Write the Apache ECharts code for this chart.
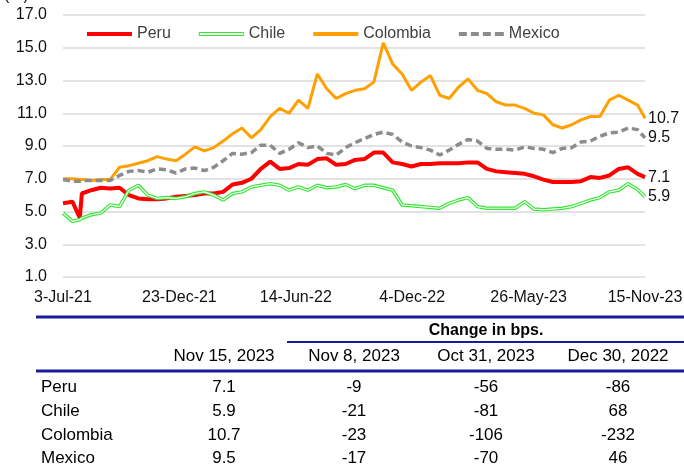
<!DOCTYPE html>
<html>
<head>
<meta charset="utf-8">
<script src="https://cdn.jsdelivr.net/npm/echarts@6/dist/echarts.min.js"></script>
<style>
  html, body { margin: 0; padding: 0; background: #fff; }
  #main { width: 684px; height: 464px; }
</style>
</head>
<body>
<div id="main"></div>
<script>
// sampled dates (about every two weeks)
var dates = ['2021-07-03','2021-07-17','2021-07-28','2021-07-31','2021-08-14','2021-08-28','2021-09-11','2021-09-25','2021-10-09','2021-10-23','2021-11-06','2021-11-20','2021-12-04','2021-12-18',
  '2022-01-01','2022-01-15','2022-01-29','2022-02-12','2022-02-26','2022-03-12','2022-03-26','2022-04-09','2022-04-23','2022-05-07','2022-05-21','2022-06-04','2022-06-18','2022-07-02','2022-07-16','2022-07-30','2022-08-13','2022-08-27','2022-09-10','2022-09-24','2022-10-08','2022-10-22','2022-11-05','2022-11-19','2022-12-03','2022-12-17','2022-12-31',
  '2023-01-14','2023-01-28','2023-02-11','2023-02-25','2023-03-11','2023-03-25','2023-04-08','2023-04-22','2023-05-06','2023-05-20','2023-06-03','2023-06-17','2023-07-01','2023-07-15','2023-07-29','2023-08-12','2023-08-26','2023-09-09','2023-09-23','2023-10-07','2023-10-21','2023-11-04','2023-11-15'];

var peru = [5.5, 5.6, 4.6, 6.1, 6.3, 6.45, 6.4, 6.45, 6.0, 5.8, 5.75, 5.75, 5.8, 5.9,
  5.95, 6.0, 6.1, 6.1, 6.2, 6.65, 6.75, 7.0, 7.6, 8.05, 7.6, 7.65, 7.9, 7.85, 8.2, 8.25, 7.85, 7.9, 8.15, 8.2, 8.6, 8.6, 8.0, 7.9, 7.75, 7.9, 7.9,
  7.95, 7.95, 7.95, 8.0, 8.0, 7.6, 7.45, 7.4, 7.35, 7.3, 7.15, 6.95, 6.8, 6.8, 6.8, 6.85, 7.1, 7.05, 7.2, 7.6, 7.7, 7.3, 7.1];

var chile = [4.9, 4.4, 4.5, 4.6, 4.8, 4.9, 5.4, 5.3, 6.3, 6.6, 6.0, 5.8, 5.85, 5.8,
  5.9, 6.1, 6.2, 6.0, 5.7, 6.1, 6.2, 6.5, 6.6, 6.7, 6.6, 6.3, 6.5, 6.3, 6.6, 6.45, 6.5, 6.65, 6.4, 6.6, 6.6, 6.45, 6.3, 5.4, 5.35, 5.3, 5.25,
  5.2, 5.5, 5.7, 5.85, 5.3, 5.2, 5.2, 5.2, 5.2, 5.6, 5.15, 5.1, 5.15, 5.2, 5.3, 5.5, 5.7, 5.85, 6.2, 6.3, 6.7, 6.35, 5.9];

var colombia = [7.0, 7.0, 6.95, 6.95, 6.9, 6.95, 6.95, 7.7, 7.8, 7.95, 8.1, 8.35, 8.2, 8.1,
  8.5, 8.95, 8.7, 8.9, 9.3, 9.75, 10.1, 9.5, 10.0, 10.8, 11.3, 11.0, 11.8, 11.3, 13.4, 12.5, 11.9, 12.2, 12.4, 12.5, 12.9, 15.3, 14.0, 13.4, 12.4, 12.9, 13.3,
  12.1, 11.9, 12.6, 13.1, 12.4, 12.2, 11.7, 11.5, 11.5, 11.3, 11.0, 10.9, 10.3, 10.1, 10.3, 10.6, 10.8, 10.8, 11.8, 12.1, 11.8, 11.5, 10.7];

var mexico = [6.95, 6.85, 6.85, 6.9, 6.9, 6.9, 6.9, 7.2, 7.45, 7.5, 7.4, 7.6, 7.55, 7.35,
  7.6, 7.65, 7.5, 7.7, 8.1, 8.55, 8.5, 8.6, 9.05, 9.05, 8.55, 8.8, 9.2, 8.9, 9.0, 8.55, 8.45, 8.9, 9.2, 9.45, 9.7, 9.85, 9.7, 9.25, 9.0, 8.9, 8.75,
  8.45, 8.75, 9.1, 9.4, 9.3, 8.85, 8.8, 8.8, 8.75, 8.95, 8.85, 8.8, 8.6, 8.85, 8.9, 9.25, 9.3, 9.6, 9.8, 9.85, 10.1, 10.0, 9.5];

// table under the chart
var tableNames = ['Peru', 'Chile', 'Colombia', 'Mexico'];
var tableHeaders = ['Nov 15, 2023', 'Nov 8, 2023', 'Oct 31, 2023', 'Dec 30, 2022'];
var lastLevel = ['7.1', '5.9', '10.7', '9.5'];
var chgWeek = ['-9', '-21', '-23', '-17'];
var chgOct = ['-56', '-81', '-106', '-70'];
var chgYear = ['-86', '68', '-232', '46'];

var months = ['Jan','Feb','Mar','Apr','May','Jun','Jul','Aug','Sep','Oct','Nov','Dec'];
var startMs = Date.parse(dates[0]);

function toDay(s) {
  return (Date.parse(s) - startMs) / 86400000;
}
function pairs(vals) {
  return dates.map(function (d, i) { return [toDay(d), vals[i]]; });
}
function dayLabel(v) {
  var d = new Date(startMs + v * 86400000);
  return d.getUTCDate() + '-' + months[d.getUTCMonth()] + '-' + String(d.getUTCFullYear()).slice(2);
}

var font = 'Liberation Sans, Arial, sans-serif';
var blue = '#1a1a9c';

var endLabel = {
  show: true,
  distance: 3,
  color: '#111',
  fontSize: 16,
  formatter: function (p) { return p.value[1].toFixed(1); }
};

// table graphics
var colX = [224, 354, 486, 618];
var rowY = [387, 411, 435, 458];
var graphics = [
  { type: 'text', left: 4, top: -12, style: { text: '(%)', font: '16px ' + font, fill: '#111' } },
  { type: 'line', shape: { x1: 36, y1: 317, x2: 684, y2: 317 }, style: { stroke: blue, lineWidth: 3 } },
  { type: 'line', shape: { x1: 287, y1: 342, x2: 684, y2: 342 }, style: { stroke: blue, lineWidth: 2 } },
  { type: 'line', shape: { x1: 36, y1: 371, x2: 684, y2: 371 }, style: { stroke: blue, lineWidth: 3 } },
  { type: 'text', x: 486, y: 331, style: { text: 'Change in bps.', font: 'bold 16px ' + font, fill: '#000',
      align: 'center', verticalAlign: 'middle', textAlign: 'center', textVerticalAlign: 'middle' } }
];
tableHeaders.forEach(function (h, i) {
  graphics.push({ type: 'text', x: colX[i], y: 356, style: { text: h, font: '17px ' + font, fill: '#000',
    align: 'center', verticalAlign: 'middle', textAlign: 'center', textVerticalAlign: 'middle' } });
});
tableNames.forEach(function (n, r) {
  var cells = [lastLevel[r], chgWeek[r], chgOct[r], chgYear[r]];
  graphics.push({ type: 'text', x: 41, y: rowY[r], style: { text: n, font: '17px ' + font, fill: '#000',
    align: 'left', verticalAlign: 'middle', textAlign: 'left', textVerticalAlign: 'middle' } });
  cells.forEach(function (c, i) {
    graphics.push({ type: 'text', x: colX[i], y: rowY[r], style: { text: c, font: '17px ' + font, fill: '#000',
      align: 'center', verticalAlign: 'middle', textAlign: 'center', textVerticalAlign: 'middle' } });
  });
});

var myChart = echarts.init(document.getElementById('main'));
var option = {
  animation: false,
  textStyle: { fontFamily: font },
  grid: { left: 63, right: 39, top: 15, bottom: 187, outerBoundsMode: 'none' },
  legend: {
    left: 82,
    top: 21,
    itemWidth: 45,
    itemHeight: 4,
    itemGap: 28,
    symbolKeepAspect: false,
    itemStyle: { borderWidth: 0 },
    textStyle: { fontSize: 16, color: '#404040' },
    data: [
      { name: 'Peru', icon: 'rect' },
      { name: 'Chile', icon: 'path://M0,0H45V4H0Z M1,1V3H44V1Z' },
      { name: 'Colombia', icon: 'rect' },
      { name: 'Mexico', icon: 'path://M0,0H8V4H0Z M12,0H20V4H12Z M24,0H32V4H24Z M36,0H45V4H36Z' }
    ]
  },
  xAxis: {
    type: 'value',
    min: 0,
    max: 865,
    interval: 173,
    axisLine: { show: false },
    axisTick: { show: false },
    splitLine: { show: false },
    axisLabel: { fontSize: 16, color: '#111', margin: 13, showMaxLabel: true, formatter: dayLabel }
  },
  yAxis: {
    type: 'value',
    min: 1,
    max: 17,
    interval: 2,
    axisLine: { show: false },
    axisTick: { show: false },
    splitLine: { lineStyle: { color: '#d9d9d9', width: 1.5 } },
    axisLabel: { fontSize: 16, color: '#111', margin: 16, formatter: function (v) { return v.toFixed(1); } }
  },
  series: [
    { name: 'Peru', type: 'line', data: pairs(peru), symbol: 'none',
      lineStyle: { color: '#ff0000', width: 4 }, itemStyle: { color: '#ff0000' }, endLabel: endLabel },
    { name: 'Chile', type: 'line', data: pairs(chile), symbol: 'none',
      lineStyle: { color: '#33e633', width: 3.5 }, itemStyle: { color: '#33e633' }, endLabel: endLabel },
    // white core for the double green line
    { name: 'Chile core', type: 'line', data: pairs(chile), symbol: 'none', silent: true,
      lineStyle: { color: '#ffffff', width: 1.2 }, itemStyle: { color: '#ffffff' } },
    { name: 'Colombia', type: 'line', data: pairs(colombia), symbol: 'none',
      lineStyle: { color: '#ffa000', width: 3 }, itemStyle: { color: '#ffa000' }, endLabel: endLabel },
    { name: 'Mexico', type: 'line', data: pairs(mexico), symbol: 'none',
      lineStyle: { color: '#8c8c8c', width: 3.5, type: [7, 4] }, itemStyle: { color: '#8c8c8c' }, endLabel: endLabel }
  ],
  graphic: graphics
};
myChart.setOption(option);
</script>
</body>
</html>
